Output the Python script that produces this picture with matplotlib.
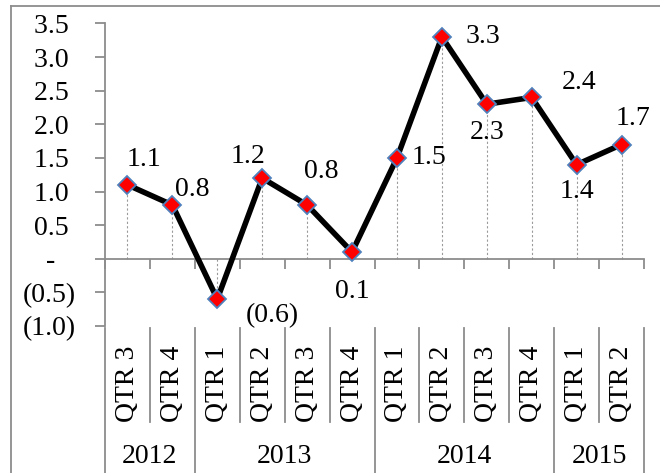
import matplotlib
matplotlib.use('Agg')
import matplotlib.pyplot as plt
import matplotlib.transforms as mtransforms
from matplotlib.lines import Line2D

# data
years = ['2012', '2013', '2014', '2015']
year_counts = [2, 4, 4, 2]
quarters = ['QTR 3', 'QTR 4', 'QTR 1', 'QTR 2', 'QTR 3', 'QTR 4',
            'QTR 1', 'QTR 2', 'QTR 3', 'QTR 4', 'QTR 1', 'QTR 2']
values = [1.1, 0.8, -0.6, 1.2, 0.8, 0.1, 1.5, 3.3, 2.3, 2.4, 1.4, 1.7]
y_ticks = [3.5, 3.0, 2.5, 2.0, 1.5, 1.0, 0.5, 0.0, -0.5, -1.0]
y_labels = ['3.5 ', '3.0 ', '2.5 ', '2.0 ', '1.5 ', '1.0 ', '0.5 ', '-   ', '(0.5)', '(1.0)']
# label offsets in pixels (dx, dy)
label_offsets = [(17, 25), (20, 16), (55, -16), (-14, 22), (14, 34), (0, -39),
                 (32, 0), (41, 0), (0, -28), (47, 15), (0, -27), (11, 26)]

plt.rcParams['font.family'] = ['Liberation Serif', 'DejaVu Serif']
FS = 20
GRAY = '#8c8c8c'

fig = plt.figure(figsize=(6.6, 4.73), dpi=100)
ax = fig.add_axes([105 / 660, 1 - 326 / 473, (644 - 105) / 660, (326 - 23.5) / 473])

x = list(range(len(values)))

ax.vlines(x, 0, values, colors='#9a9a9a', linestyles=(0, (2, 2)), linewidth=0.8, zorder=1)
ax.plot(x, values, color='black', linewidth=4, zorder=3,
        marker='D', markersize=9.5, markerfacecolor='red',
        markeredgecolor='#4F81BD', markeredgewidth=1.3)

for xi, v, (dx, dy) in zip(x, values, label_offsets):
    txt = f'{v:.1f}' if v >= 0 else f'({abs(v):.1f})'
    ax.annotate(txt, (xi, v), xytext=(dx, dy), textcoords='offset pixels',
                ha='center', va='center', fontsize=FS, annotation_clip=False, zorder=4)

ax.set_xlim(-0.5, len(values) - 0.5)
ax.set_ylim(-1.0, 3.5)
ax.set_yticks(y_ticks, y_labels)
ax.tick_params(axis='y', direction='out', length=7, width=1.3, color=GRAY,
               labelsize=FS, pad=14)

for s in ['top', 'right']:
    ax.spines[s].set_visible(False)
ax.spines['left'].set_color(GRAY)
ax.spines['left'].set_linewidth(1.3)
ax.spines['bottom'].set_position(('data', 0))
ax.spines['bottom'].set_color(GRAY)
ax.spines['bottom'].set_linewidth(1.3)
ax.set_xticks([i - 0.5 for i in range(len(values) + 1)], [''] * (len(values) + 1))
ax.tick_params(axis='x', direction='out', length=7, width=1.3, color=GRAY)

# category axis below the plot
trans = mtransforms.blended_transform_factory(ax.transData, ax.transAxes)
sep_top = -0.007
q_bottom = -0.318
y_bottom = -0.52
for i, q in enumerate(quarters):
    ax.text(i, -0.19, q, rotation=90, ha='center', va='center', fontsize=FS,
            transform=trans, clip_on=False)

start = 0
bounds = [0]
for n in year_counts:
    start += n
    bounds.append(start)
for i in range(len(values) + 1):
    bottom = y_bottom if i in bounds else q_bottom
    ax.add_line(Line2D([i - 0.5, i - 0.5], [sep_top, bottom], color=GRAY,
                       linewidth=1.3, transform=trans, clip_on=False))
for yr, a, b in zip(years, bounds[:-1], bounds[1:]):
    ax.text((a + b - 1) / 2, -0.433, yr, ha='center', va='center', fontsize=FS,
            transform=trans, clip_on=False)

# outer frame (left and top edges visible)
fig.add_artist(Line2D([11 / 660, 11 / 660], [0, 1 - 6 / 473], color=GRAY,
                      linewidth=1.3, transform=fig.transFigure))
fig.add_artist(Line2D([11 / 660, 1], [1 - 6 / 473, 1 - 6 / 473], color=GRAY,
                      linewidth=1.3, transform=fig.transFigure))

fig.savefig('out.png', dpi=100)
